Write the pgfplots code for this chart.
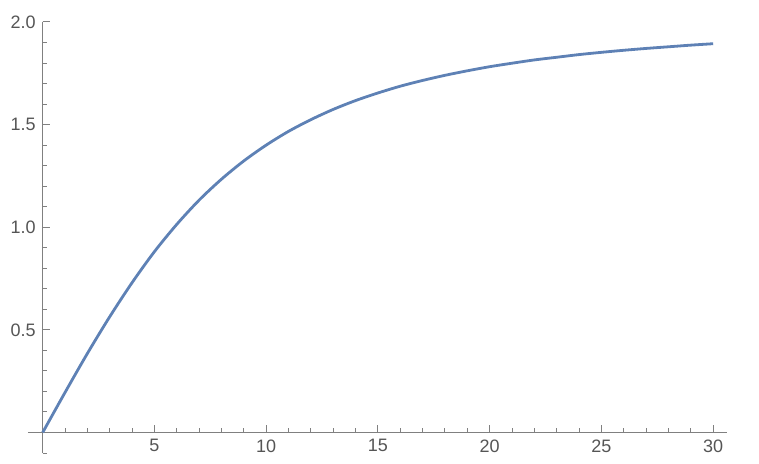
\documentclass[border=0pt]{standalone}
\usepackage{fontspec}
\setmainfont{Liberation Sans}
\usepackage{pgfplots}
\pgfplotsset{compat=1.18}
\definecolor{mmablue}{RGB}{94,129,181}
\definecolor{axgray}{RGB}{128,128,128}
\definecolor{lblgray}{RGB}{85,85,85}
\begin{document}
\begin{tikzpicture}
\begin{axis}[
    scale only axis,
    width=349.5pt, height=215.5pt,
    xmin=-0.66, xmax=30.62,
    ymin=-0.1, ymax=2.0,
    axis lines=middle,
    axis line style={-, axgray, line width=0.5pt},
    tick style={axgray, line width=0.5pt},
    tick align=inside,
    major tick length=3.75pt,
    minor tick length=2.25pt,
    xtick={5,10,...,30},
    ytick={0.5,1.0,1.5,2.0},
    minor xtick={0,1,...,30},
    minor ytick={-0.1,0,0.1,0.2,0.3,0.4,0.5,0.6,0.7,0.8,0.9,1.0,1.1,1.2,1.3,1.4,1.5,1.6,1.7,1.8,1.9,2.0},
    /pgf/number format/assume math mode=true,
    yticklabel style={/pgf/number format/fixed, /pgf/number format/fixed zerofill, /pgf/number format/precision=1},
    ticklabel style={font=\fontsize{9}{10}\selectfont, text=lblgray},
    clip=false,
]
\addplot[color=mmablue, line width=1.4pt, smooth] coordinates {
    (0,0) (1,0.195) (2,0.385) (3,0.564) (4,0.730) (5,0.881)
    (6,1.014) (7,1.132) (8,1.234) (9,1.323) (10,1.400)
    (11,1.467) (12,1.524) (13,1.574) (14,1.617) (15,1.654)
    (16,1.687) (17,1.715) (18,1.740) (19,1.762) (20,1.782)
    (21,1.799) (22,1.815) (23,1.828) (24,1.841) (25,1.852)
    (26,1.862) (27,1.871) (28,1.879) (29,1.887) (30,1.894)
};
\path (axis cs:-1.91,-0.150) rectangle (axis cs:32.05,2.107);
\end{axis}
\end{tikzpicture}
\end{document}
